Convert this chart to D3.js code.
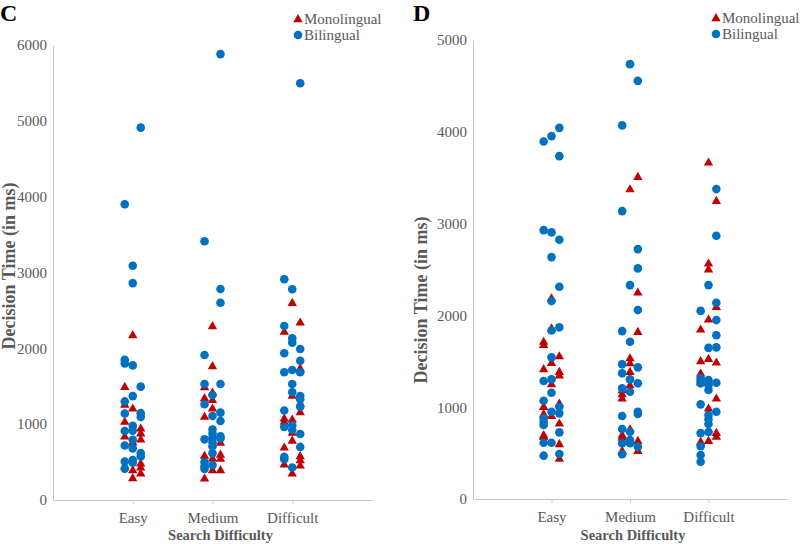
<!DOCTYPE html>
<html>
<head>
<meta charset="utf-8">
<script src="https://cdn.jsdelivr.net/npm/d3@7"></script>
<style>
  body { margin: 0; background: #fff; }
  svg text { font-family: "Liberation Serif", "Times New Roman", serif; }
</style>
</head>
<body>
<div id="chart"></div>
<script>
// categories on the x axis (positions 1, 2, 3; points are jittered by +-0.1)
const categories = ["Easy", "Medium", "Difficult"];
const seriesNames = ["Monolingual", "Bilingual"];
const cTicks = [0, 1000, 2000, 3000, 4000, 5000, 6000];
const dTicks = [0, 1000, 2000, 3000, 4000, 5000];

// panel C : [x, decision time in ms]
const cMono = [
  [1,2176],[0.9,1494],[0.9,1260],[1,1209],[0.9,1033],[1.1,945],[1.1,880],[1.1,800],[0.9,840],[1,760],
  [1.1,484],[1.1,431],[1.1,352],[0.9,448],[1,396],[1,290],
  [2,2295],[2,1767],[1.9,1490],[2,1420],[1.9,1345],[2,1320],[2,1209],[1.9,1099],[2.1,756],[1.9,585],
  [2,550],[2.1,600],[2.1,545],[2,396],[2.1,396],[1.9,286],
  [3,2602],[3.1,2343],[2.9,2220],[3.1,1737],[3,1376],[3.1,1275],[3.1,1161],[2.9,1077],[2.9,1033],[3,1064],
  [3,888],[3,785],[2.9,695],[3.1,580],[3.1,527],[2.9,470],[3.1,457],[3,352]
];
const cBi = [
  [1.1,4910],[0.9,3900],[1,3090],[1,2860],[0.9,1850],[0.9,1800],[1,1775],[1.1,1495],[1,1370],[0.9,1300],
  [0.9,1140],[1.1,1145],[1.1,1095],[1,978],[1,915],[0.9,910],[1,795],[0.9,718],[1,681],[1.1,620],
  [1.1,575],[1,527],[1,492],[0.9,508],[0.9,414],
  [2.1,5880],[1.9,3412],[2.1,2783],[2.1,2602],[1.9,1913],[1.9,1530],[2.1,1530],[2,1385],[1.9,1262],[2,1108],
  [2.1,1152],[2.1,1042],[2,930],[2,875],[2,820],[2,762],[2,708],[1.9,800],[2.1,840],[2.1,810],
  [2,616],[1.9,500],[1.9,445],[1.9,410],[2,460],
  [3.1,5496],[2.9,2911],[3,2779],[2.9,2295],[3,2133],[3,2075],[2.9,1935],[3.1,1992],[3.1,1837],[2.9,1684],
  [3,1715],[3.1,1684],[3,1530],[3,1420],[3.1,1372],[3.1,1328],[3.1,1231],[2.9,1180],[2.9,962],[3,985],
  [3,923],[3.1,870],[3.1,700],[2.9,571],[2.9,539],[3,428]
];

// panel D
const dMono = [
  [1,2189],[1,1860],[0.9,1715],[0.9,1680],[1.1,1557],[1,1484],[0.9,1416],[1.1,1386],[1.1,1347],[1,1252],
  [1.1,1042],[0.9,1005],[0.9,926],[1,907],[1.1,824],[0.9,697],[0.9,678],[1.1,599],[1.1,440],
  [2.1,3510],[2,3376],[2.1,2251],[2.1,1822],[2,1535],[2,1481],[2,1386],[2,1241],[1.9,1187],[1.9,1143],
  [1.9,1097],[2,762],[1.9,697],[1.9,672],[2.1,635],[2.1,526],[1.9,526],
  [3,3667],[3.1,3249],[3,2567],[3,2501],[3.1,2094],[3,1957],[2.9,1848],[3,1528],[2.9,1503],[3.1,1489],
  [2.9,1369],[2.9,1270],[3.1,1097],[3,988],[3.1,722],[3.1,680],[3,635],[2.9,624]
];
const dBi = [
  [1.1,4043],[1,3953],[0.9,3895],[1.1,3735],[0.9,2929],[1,2904],[1.1,2824],[1,2635],[1.1,2312],[1,2156],
  [1.1,1870],[1,1835],[1,1543],[0.9,1285],[1,1303],[1,1158],[0.9,1071],[1,951],[1.1,1005],[1.1,933],
  [0.9,879],[0.9,842],[0.9,806],[1.1,726],[0.9,613],[1,613],[1.1,490],[0.9,472],
  [2,4737],[2.1,4555],[1.9,4070],[1.9,3136],[2.1,2722],[2.1,2512],[2,2330],[2.1,2058],[1.9,1829],[2,1713],
  [1.9,1467],[1.9,1369],[2,1303],[2.1,1434],[2.1,1260],[1.9,1205],[2,1169],[2.1,951],[2.1,926],[1.9,904],
  [1.9,762],[2,733],[1.9,607],[2,643],[2,607],[2.1,570],[1.9,487],
  [3.1,3376],[3.1,2867],[3,2330],[3.1,2138],[2.9,2049],[3.1,1949],[3.1,1783],[3.1,1652],[3,1646],[2.9,1314],
  [2.9,1288],[2.9,1260],[3,1296],[3,1241],[3,1187],[3.1,1267],[2.9,1031],[3.1,951],[3,915],[3,868],
  [3,817],[2.9,718],[3,730],[2.9,574],[2.9,479],[2.9,406]
];

const width = 800, height = 544;
const red = "#C00000", blue = "#0070C0", grey = "#595959", axisGrey = "#c8c8c8";

const svg = d3.select('#chart').append('svg')
  .attr('width', width)
  .attr('height', height);

const tri = d3.symbol().type(d3.symbolTriangle).size(38);

function panel(o) {
  const x = d3.scaleLinear().domain([0, 4]).range([o.left, o.right]);
  const y = d3.scaleLinear().domain([0, o.ticks[o.ticks.length - 1]]).range([o.bottom, o.top]);
  const g = svg.append('g');

  // y axis
  const ya = g.append('g')
    .attr('transform', 'translate(' + o.left + ',0)')
    .call(d3.axisLeft(y).tickValues(o.ticks).tickSize(0).tickPadding(6).tickFormat(d3.format('d')));
  ya.select('.domain').attr('stroke', axisGrey);
  ya.selectAll('text').attr('fill', grey).style('font-size', '15px');

  // x axis
  const xa = g.append('g')
    .attr('transform', 'translate(0,' + o.bottom + ')')
    .call(d3.axisBottom(x).tickValues([1, 2, 3]).tickSize(4).tickSizeOuter(0).tickPadding(8)
      .tickFormat(d => categories[d - 1]));
  xa.select('.domain').attr('stroke', axisGrey);
  xa.selectAll('.tick line').attr('stroke', axisGrey);
  xa.selectAll('text').attr('fill', grey).style('font-size', '15px');

  // axis titles
  g.append('text')
    .attr('x', (o.left + o.right) / 2 + o.xTitleShift)
    .attr('y', 540)
    .attr('text-anchor', 'middle')
    .attr('fill', grey)
    .style('font-size', '14.5px')
    .style('font-weight', 'bold')
    .text('Search Difficulty');

  g.append('text')
    .attr('transform', 'translate(' + o.yTitleX + ',' + o.yTitleY + ') rotate(-90)')
    .attr('text-anchor', 'middle')
    .attr('fill', grey)
    .style('font-size', '18px')
    .style('font-weight', 'bold')
    .text('Decision Time (in ms)');

  // panel letter
  g.append('text')
    .attr('x', o.letterX)
    .attr('y', 21)
    .attr('fill', '#000')
    .style('font-size', '24px')
    .style('font-weight', 'bold')
    .text(o.letter);

  // points: monolingual first, bilingual on top
  g.append('g').selectAll('path')
    .data(o.mono)
    .enter()
    .append('path')
      .attr('d', tri)
      .attr('transform', d => 'translate(' + x(d[0]) + ',' + (y(d[1]) + 0.5) + ')')
      .attr('fill', red);

  g.append('g').selectAll('circle')
    .data(o.bi)
    .enter()
    .append('circle')
      .attr('cx', d => x(d[0]))
      .attr('cy', d => y(d[1]))
      .attr('r', 4.3)
      .attr('fill', blue);

  // legend
  const lg = g.append('g').attr('transform', 'translate(' + o.legendX + ',' + o.legendY + ')');
  lg.append('path').attr('d', tri).attr('transform', 'translate(0,0.5)').attr('fill', red);
  lg.append('circle').attr('cx', 0).attr('cy', 16).attr('r', 4.3).attr('fill', blue);
  lg.selectAll('text')
    .data(seriesNames)
    .enter()
    .append('text')
      .attr('x', 6)
      .attr('y', (d, i) => i * 16 + 5)
      .attr('fill', grey)
      .style('font-size', '15px')
      .text(d => d);
}

panel({
  letter: 'C', letterX: 0,
  left: 53, right: 372, top: 45, bottom: 500, ticks: cTicks,
  mono: cMono, bi: cBi,
  yTitleX: 15, yTitleY: 266, xTitleShift: 8,
  legendX: 298, legendY: 19
});

panel({
  letter: 'D', letterX: 413,
  left: 473, right: 787, top: 40, bottom: 499, ticks: dTicks,
  mono: dMono, bi: dBi,
  yTitleX: 427, yTitleY: 300, xTitleShift: 3,
  legendX: 716, legendY: 18
});
</script>
</body>
</html>
